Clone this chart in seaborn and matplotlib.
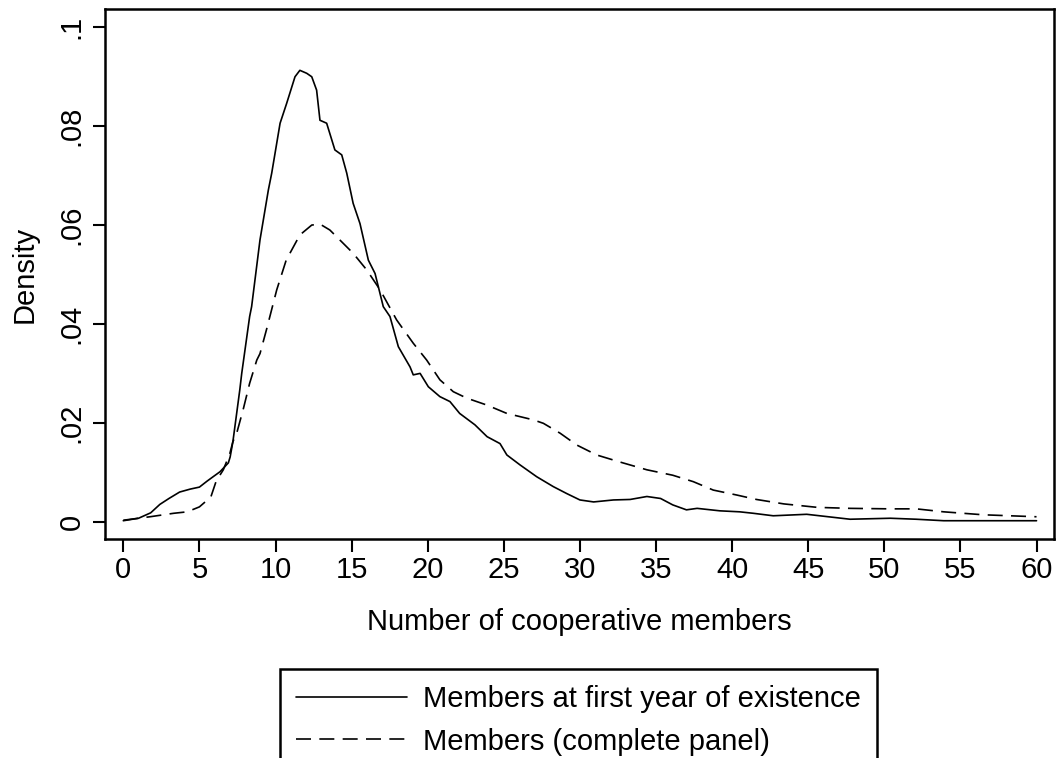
import matplotlib
matplotlib.use("Agg")
import matplotlib.pyplot as plt
import seaborn as sns
import pandas as pd

# --- kernel density curves ---
first_x = [0, 1.0, 1.8, 2.4, 3.0, 3.7, 4.4, 5.0, 5.5, 5.9, 6.35, 6.9, 7.02, 7.2, 7.65,
           7.78, 8.3, 8.43, 8.98, 9.53, 9.75, 10.3, 10.73, 11.28, 11.6, 12.05, 12.38,
           12.7, 12.92, 13.36, 13.9, 14.35, 14.68, 15.1, 15.55, 16.1, 16.54, 17.08,
           17.52, 18.07, 18.84, 19.05, 19.5, 20.04, 20.8, 21.46, 22.1, 23.1, 23.9,
           24.75, 25.2, 26.06, 27.16, 28.25, 29.13, 30.0, 30.9, 32.2, 33.3, 34.4,
           35.3, 36.1, 37.0, 37.7, 39.2, 40.5, 41.4, 42.7, 44.9, 47.75, 50.4, 52.1,
           53.9, 60]
first_y = [0.0002, 0.0007, 0.0018, 0.0035, 0.0047, 0.006, 0.0066, 0.007, 0.0082, 0.0091,
           0.0101, 0.0119, 0.0131, 0.0162, 0.0266, 0.030, 0.0415, 0.0435, 0.057, 0.0671,
           0.0705, 0.0806, 0.0846, 0.090, 0.0913, 0.0907, 0.090, 0.0873, 0.0812, 0.0806,
           0.0752, 0.0742, 0.0705, 0.0644, 0.0603, 0.0529, 0.0502, 0.0435, 0.0415,
           0.0354, 0.0313, 0.0297, 0.030, 0.0273, 0.0253, 0.0243, 0.0219, 0.0196,
           0.0172, 0.0158, 0.0135, 0.0115, 0.0091, 0.0071, 0.0057, 0.0044, 0.004,
           0.0044, 0.0045, 0.0051, 0.0047, 0.0034, 0.0024, 0.0027, 0.0022, 0.002,
           0.0017, 0.0012, 0.0015, 0.0005, 0.0007, 0.0005, 0.0002, 0.0002]

panel_x = [0, 1.75, 3.3, 4.2, 5.0, 5.75, 6.1, 6.57, 7.0, 7.2, 7.45, 7.9, 8.3, 8.77, 8.98,
           9.42, 10.08, 10.7, 11.6, 12.38, 12.92, 13.57, 14.45, 15.1, 16.0, 16.87, 17.96,
           19.05, 19.93, 20.8, 21.68, 22.56, 23.88, 25.2, 26.94, 27.6, 28.7, 29.8, 31.1,
           32.6, 34.4, 36.1, 37.45, 38.76, 40.3, 41.6, 43.4, 45.6, 47.75, 50.4, 52.1,
           53.9, 56.5, 60]
panel_y = [0.0003, 0.001, 0.0017, 0.002, 0.003, 0.005, 0.0082, 0.0105, 0.0138, 0.0162,
           0.0179, 0.023, 0.028, 0.0327, 0.034, 0.039, 0.0469, 0.0529, 0.058, 0.060,
           0.0602, 0.059, 0.0563, 0.0543, 0.0509, 0.0469, 0.0408, 0.0361, 0.0327,
           0.0287, 0.0263, 0.025, 0.0236, 0.0219, 0.0206, 0.0199, 0.0179, 0.0155,
           0.0135, 0.0121, 0.0105, 0.0094, 0.0081, 0.0064, 0.0054, 0.0045, 0.0036,
           0.0029, 0.0027, 0.0026, 0.0026, 0.002, 0.0014, 0.001]

labels = ["Members at first year of existence", "Members (complete panel)"]
x_ticks = list(range(0, 61, 5))
y_ticks = [0, 0.02, 0.04, 0.06, 0.08, 0.1]
y_ticklabels = ["0", ".02", ".04", ".06", ".08", ".1"]

sns.set_style("ticks")
plt.rcParams["font.family"] = ["Liberation Sans", "DejaVu Sans"]
plt.rcParams["text.color"] = "black"
plt.rcParams["axes.labelcolor"] = "black"

fig = plt.figure(figsize=(10.59, 7.58), dpi=100)
ax = fig.add_axes([0.0992, 0.2889, 0.8961, 0.6992])

df_first = pd.DataFrame({"x": first_x, "y": first_y})
df_panel = pd.DataFrame({"x": panel_x, "y": panel_y})
sns.lineplot(data=df_first, x="x", y="y", ax=ax, color="black", linewidth=1.2,
             label=labels[0], legend=False)
sns.lineplot(data=df_panel, x="x", y="y", ax=ax, color="black", linewidth=1.2,
             label=labels[1], legend=False)
ax.lines[1].set_dashes((9, 5))

ax.set_xlim(-1.2, 61.15)
ax.set_ylim(-0.0035, 0.1037)
ax.set_xticks(x_ticks)
ax.set_yticks(y_ticks)
ax.set_yticklabels(y_ticklabels, rotation=90, va="center")
ax.tick_params(axis="both", labelsize=21, length=9, width=1.5, color="black",
               labelcolor="black")
ax.tick_params(axis="y", pad=5)
for s in ax.spines.values():
    s.set_linewidth(1.8)
    s.set_color("black")

ax.set_xlabel("Number of cooperative members", fontsize=21, labelpad=17)
ax.set_ylabel("Density", fontsize=21, labelpad=14)

# legend box sits low and runs off the bottom edge, as in the original
leg = fig.legend(handles=ax.lines[:2], labels=labels, loc="upper left",
                 bbox_to_anchor=(0.2645, 0.1174), fontsize=21, frameon=True,
                 fancybox=False, handlelength=3.8, handletextpad=0.55,
                 borderpad=0.55, labelspacing=0.5, borderaxespad=0,
                 framealpha=1)
leg.get_frame().set_edgecolor("black")
leg.get_frame().set_linewidth(1.8)

fig.savefig("out.png", dpi=100, facecolor="white")
